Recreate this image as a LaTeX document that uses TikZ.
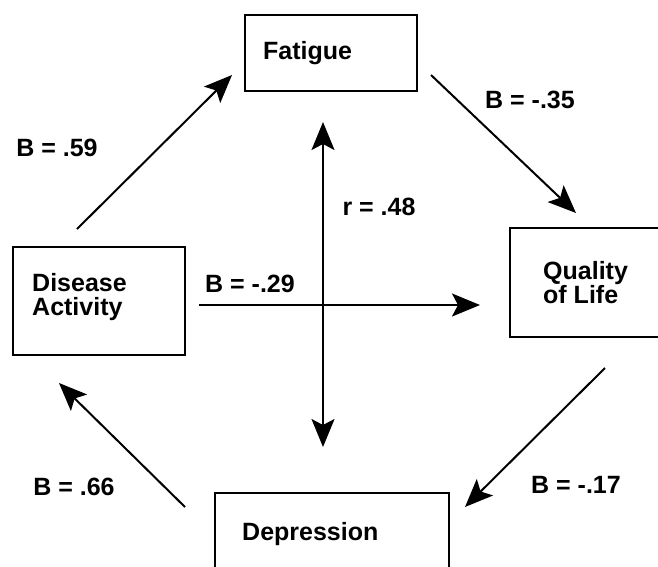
\documentclass[tikz,border=0pt]{standalone}
\usepackage{fontspec}
\setmainfont{Liberation Sans}
\usetikzlibrary{arrows.meta}
\tikzset{
  box/.style={draw, line width=2pt, inner sep=0pt},
  lbl/.style={font=\bfseries\fontsize{25}{24}\selectfont, inner sep=0pt},
  boxtext/.style={lbl, anchor=west, align=left},
  arr/.style={line width=2pt, -{Stealth[length=28pt, width=23pt, inset=6pt]}},
  dbl/.style={line width=2pt, {Stealth[length=28pt, width=23pt, inset=6pt]}-{Stealth[length=28pt, width=23pt, inset=6pt]}}
}
\begin{document}
\begin{tikzpicture}[x=1pt, y=-1pt]
\useasboundingbox (0,0) rectangle (658,566);
\clip (0,0) rectangle (658,566);
\fill[white] (0,0) rectangle (658,566);

% boxes
\node[box, minimum width=172pt, minimum height=76pt]  (fat) at (331,53) {};
\node[box, minimum width=172pt, minimum height=108pt] (dis) at (99,301) {};
\node[box, minimum width=170pt, minimum height=109pt] (qol) at (595,282.5) {};
\node[box, minimum width=234pt, minimum height=97pt]  (dep) at (332,541.5) {};

% box texts
\node[boxtext] (fatT) at (263,53) {Fatigue};
\node[boxtext] (disT) at (32,297) {Disease\\Activity};
\node[boxtext] (qolT) at (543,283) {Quality\\of Life};
\node[boxtext] (depT) at (242,534) {Depression};

% arrow end points
\coordinate (a1s) at (77,229);   \coordinate (a1e) at (232,75);
\coordinate (a2s) at (431,75);   \coordinate (a2e) at (576,213);
\coordinate (a3s) at (605,368);  \coordinate (a3e) at (465,507);
\coordinate (a4s) at (185,507);  \coordinate (a4e) at (59,383);
\coordinate (a5s) at (199,305);  \coordinate (a5e) at (480,305);
\coordinate (a6s) at (323,122);  \coordinate (a6e) at (323,447);

% paths
\draw[arr] (a1s) -- (a1e);
\draw[arr] (a2s) -- (a2e);
\draw[arr] (a3s) -- (a3e);
\draw[arr] (a4s) -- (a4e);
\draw[arr] (a5s) -- (a5e);
\draw[dbl] (a6s) -- (a6e);

% coefficients
\node[lbl] (b1) at (57,148)  {B = .59};
\node[lbl] (b2) at (530,100) {B = -.35};
\node[lbl] (b3) at (250,284) {B = -.29};
\node[lbl] (r1) at (379,207) {r = .48};
\node[lbl] (b4) at (74,487)  {B = .66};
\node[lbl] (b5) at (576,485) {B = -.17};
\end{tikzpicture}
\end{document}
